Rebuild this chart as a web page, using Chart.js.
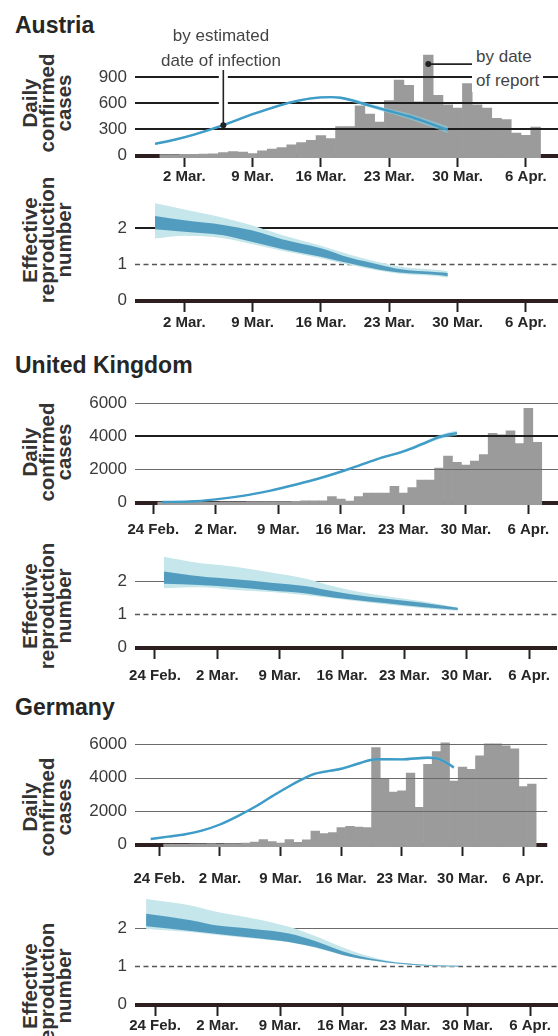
<!DOCTYPE html>
<html>
<head>
<meta charset="utf-8">
<script src="https://cdn.jsdelivr.net/npm/chart.js@4"></script>
<style>
  html, body { margin: 0; padding: 0; background: #fff; overflow: hidden; }
  body { width: 558px; height: 1036px; position: relative; font-family: "Liberation Sans", Arial, sans-serif; }
  canvas { position: absolute; left: 0; }
  .country { position: absolute; left: 15px; font-weight: bold; font-size: 23px; line-height: 23px; color: #262626; }
  .ytitle { position: absolute; left: 46px; transform: translate(-50%, -50%) rotate(-90deg); font-weight: bold; font-size: 20.5px; line-height: 17px; text-align: center; white-space: nowrap; color: #333; }
  .note { position: absolute; font-size: 17px; color: #444; z-index: 2; }
</style>
</head>
<body>
<div class="country" style="top:14px">Austria</div>
<div class="country" style="top:354px">United Kingdom</div>
<div class="country" style="top:696px">Germany</div>

<div class="ytitle" style="top:103px">Daily<br>confirmed<br>cases</div>
<div class="ytitle" style="top:240px">Effective<br>reproduction<br>number</div>
<div class="ytitle" style="top:452px">Daily<br>confirmed<br>cases</div>
<div class="ytitle" style="top:606px">Effective<br>reproduction<br>number</div>
<div class="ytitle" style="top:807px">Daily<br>confirmed<br>cases</div>
<div class="ytitle" style="top:986px">Effective<br>reproduction<br>number</div>

<div class="note" style="left:221px; top:24px; transform:translateX(-50%); text-align:center; line-height:24.5px;">by estimated<br>date of infection</div>
<div class="note" style="left:472px; top:45px; padding:0 4px; background:#fff; line-height:23.5px;">by date<br>of report</div>

<canvas id="a1"></canvas>
<canvas id="a2"></canvas>
<canvas id="u1"></canvas>
<canvas id="u2"></canvas>
<canvas id="g1"></canvas>
<canvas id="g2"></canvas>

<script>
// day numbers count from 24 Feb 2020 (day 0); 2020 is a leap year, so 2 Mar is day 7
const weekDays = [0, 7, 14, 21, 28, 35, 42];
const weekLabels = ["24 Feb.", "2 Mar.", "9 Mar.", "16 Mar.", "23 Mar.", "30 Mar.", "6 Apr."];

// ---- Austria ----
const atReportStart = 5; // 29 Feb
const atReported = [8, 8, 10, 10, 12, 14, 30, 42, 36, 18, 50, 70, 88, 118, 145, 170, 225, 190, 330, 330,
  570, 475, 383, 630, 867, 805, 615, 1155, 692, 580, 543, 827, 580, 543, 426, 412, 255, 230, 324];
const atInfDays = [4, 6, 8, 11, 14, 16, 18, 20, 22, 23, 24, 26, 28, 30, 32, 34];
const atInfected = [131, 178, 237, 346, 474, 547, 612, 656, 670, 663, 638, 572, 510, 449, 372, 292];
const atInfLow = [120, 166, 225, 333, 460, 533, 598, 642, 656, 648, 620, 550, 484, 418, 336, 254];
const atInfHigh = [142, 190, 249, 359, 488, 561, 626, 670, 684, 678, 656, 594, 536, 480, 408, 330];
const atRDays = [4, 7, 11, 14, 17, 21, 24, 27, 29, 33, 34];
const atROuterHigh = [2.70, 2.53, 2.30, 2.08, 1.82, 1.52, 1.27, 1.06, 0.94, 0.84, 0.81];
const atRInnerHigh = [2.35, 2.23, 2.10, 1.94, 1.70, 1.45, 1.18, 0.99, 0.87, 0.78, 0.76];
const atRInnerLow = [1.98, 1.91, 1.81, 1.62, 1.43, 1.21, 1.02, 0.85, 0.77, 0.70, 0.67];
const atROuterLow = [1.72, 1.80, 1.73, 1.56, 1.38, 1.17, 0.98, 0.82, 0.74, 0.67, 0.63];

// ---- United Kingdom ----
const ukReportStart = 1;
const ukReported = [3, 3, 5, 5, 8, 10, 12, 15, 18, 25, 30, 30, 35, 40, 40, 45, 80, 80, 80, 344,
  190, 70, 344, 554, 554, 554, 955, 554, 879, 1337, 1337, 2063, 2789, 2407, 2254, 2483, 2884, 4164, 4087, 4317,
  3553, 5692, 3629];
const ukInfDays = [1, 4, 7, 10, 13, 16, 19, 22, 25, 28, 30, 32, 33, 34];
const ukInfected = [10, 38, 172, 382, 688, 1070, 1509, 2025, 2598, 3075, 3495, 3935, 4087, 4183];
const ukInfLow = [0, 18, 145, 350, 650, 1025, 1460, 1965, 2530, 2990, 3390, 3810, 3955, 4040];
const ukInfHigh = [25, 60, 200, 415, 725, 1115, 1560, 2085, 2665, 3160, 3600, 4060, 4220, 4320];
const ukRDays = [1, 5, 9, 13, 17, 20, 24, 28, 32, 34];
const ukROuterHigh = [2.73, 2.54, 2.43, 2.26, 2.07, 1.84, 1.62, 1.46, 1.30, 1.19];
const ukRInnerHigh = [2.29, 2.14, 2.05, 1.95, 1.84, 1.69, 1.52, 1.40, 1.27, 1.19];
const ukRInnerLow = [1.92, 1.88, 1.81, 1.71, 1.62, 1.50, 1.38, 1.27, 1.17, 1.12];
const ukROuterLow = [1.78, 1.81, 1.73, 1.67, 1.57, 1.48, 1.35, 1.24, 1.14, 1.10];

// ---- Germany ----
const deReportStart = 1;
const deReported = [10, 5, 10, 15, 20, 30, 25, 35, 40, 60, 130, 280, 160, 60, 270, 110, 260, 790, 630, 700,
  1000, 1070, 1030, 990, 5790, 3920, 3130, 3200, 4270, 2210, 4790, 5550, 6080, 3790, 4620, 4490, 5300, 6020, 6020, 5900,
  5720, 3450, 3600];
const deInfDays = [-1, 1, 3, 5, 7, 9, 11, 13, 15, 17, 18, 21, 23, 25, 28, 31, 32, 33, 34];
const deInfected = [310, 450, 598, 830, 1180, 1670, 2230, 2870, 3480, 4020, 4230, 4526, 4840, 5100, 5090, 5190, 5150, 4935, 4600];
const deInfLow = [270, 410, 550, 780, 1120, 1610, 2170, 2800, 3410, 3950, 4160, 4456, 4770, 5030, 5020, 5110, 5070, 4845, 4500];
const deInfHigh = [350, 490, 646, 880, 1240, 1730, 2290, 2940, 3550, 4090, 4300, 4596, 4910, 5170, 5160, 5270, 5230, 5025, 4700];
const deRDays = [-1, 4, 7, 11, 15, 18, 22, 26, 30, 34];
const deROuterHigh = [2.77, 2.60, 2.43, 2.26, 2.04, 1.79, 1.41, 1.15, 1.05, 1.02];
const deRInnerHigh = [2.38, 2.21, 2.07, 1.98, 1.86, 1.66, 1.32, 1.13, 1.04, 1.01];
const deRInnerLow = [2.05, 1.93, 1.85, 1.75, 1.64, 1.50, 1.24, 1.10, 1.02, 0.99];
const deROuterLow = [1.98, 1.90, 1.82, 1.73, 1.63, 1.48, 1.24, 1.09, 1.01, 0.98];

Chart.defaults.font.family = '"Liberation Sans", Arial, sans-serif';
Chart.defaults.animation = false;
Chart.defaults.plugins.legend.display = false;
Chart.defaults.plugins.tooltip.enabled = false;

const narrow = '"Liberation Sans Narrow", "Arial Narrow", "Liberation Sans", Arial, sans-serif';

const pts = (days, vals) => days.map((d, i) => ({ x: d, y: vals[i] }));
const fromStart = (start, vals) => vals.map((v, i) => ({ x: start + i, y: v }));

function casesSets(start, reported, days, mid, lo, hi) {
  const smooth = { type: "line", pointRadius: 0, cubicInterpolationMode: "monotone", borderWidth: 1 };
  return [
    { type: "bar", data: fromStart(start, reported), backgroundColor: "#9b9b9b", borderWidth: 0,
      barPercentage: 1, categoryPercentage: 1, order: 3 },
    { ...smooth, data: pts(days, lo), borderColor: "transparent", fill: false, order: 2 },
    { ...smooth, data: pts(days, hi), borderColor: "transparent", backgroundColor: "rgba(140,206,226,0.6)", fill: "-1", order: 2 },
    { ...smooth, data: pts(days, mid), borderColor: "#3e9cc7", borderWidth: 2.4, fill: false, order: 1 },
  ];
}

function rSets(days, outerLo, outerHi, innerLo, innerHi) {
  const band = (vals, fill, color, order) => ({
    type: "line", data: pts(days, vals), borderColor: "transparent", borderWidth: 1,
    backgroundColor: color, pointRadius: 0, cubicInterpolationMode: "monotone", fill, order,
  });
  return [
    band(outerLo, false, "transparent", 2),
    band(outerHi, "-1", "#c5e6ea", 2),
    band(innerLo, false, "transparent", 1),
    band(innerHi, "-1", "#529dbf", 1),
  ];
}

function drawGrid(chart, o) {
  const { ctx, chartArea: a, scales: { y } } = chart;
  ctx.save();
  y.ticks.forEach(t => {
    if (t.value === 0) return;
    const heavy = o.heavy.includes(t.value);
    const dashed = o.dashed.includes(t.value);
    const py = Math.round(y.getPixelForValue(t.value)) + (heavy ? 0 : 0.5);
    ctx.beginPath();
    ctx.lineWidth = heavy ? 2 : dashed ? 1.6 : 1;
    ctx.strokeStyle = heavy ? "#1e1e1e" : dashed ? "#555" : "#6a6a6a";
    ctx.setLineDash(dashed ? [5, 3.5] : []);
    ctx.moveTo(a.left, py);
    ctx.lineTo(a.right, py);
    ctx.stroke();
  });
  ctx.restore();
}

const rulesPlugin = {
  id: "rules",
  beforeDatasetsDraw(chart, args, o) {
    const { ctx, chartArea: a, scales: { y } } = chart;
    const y0 = Math.round(y.getPixelForValue(0));
    ctx.save();
    ctx.fillStyle = "#2d1f1f";
    ctx.fillRect(a.left, y0 - 1, a.right - a.left, a.bottom - y0 + 1);
    ctx.restore();
    if (!o.overBars) drawGrid(chart, o);
  },
  afterDatasetDraw(chart, args, o) {
    if (o.overBars && args.meta.type === "bar") drawGrid(chart, o);
  },
};

// leader lines for the two Austria labels
const austriaNotes = {
  id: "austriaNotes",
  afterDatasetsDraw(chart) {
    const { ctx, scales: { x, y } } = chart;
    const top = parseFloat(chart.canvas.style.top);
    const p = chart.getDatasetMeta(3).data[atInfDays.indexOf(11)];
    ctx.save();
    ctx.strokeStyle = "#fff";
    ctx.lineWidth = 9;
    ctx.beginPath();
    ctx.moveTo(p.x, 70 - top);
    ctx.lineTo(p.x, p.y - 18);
    ctx.stroke();
    ctx.strokeStyle = "#222";
    ctx.lineWidth = 1.6;
    ctx.beginPath();
    ctx.moveTo(p.x, 70 - top);
    ctx.lineTo(p.x, p.y);
    ctx.stroke();
    ctx.fillStyle = "#222";
    ctx.beginPath();
    ctx.arc(p.x, p.y, 3, 0, Math.PI * 2);
    ctx.fill();

    const peak = Math.max(...atReported);
    const peakDay = atReportStart + atReported.indexOf(peak);
    const qx = x.getPixelForValue(peakDay);
    const qy = y.getPixelForValue(peak) + 9;
    ctx.beginPath();
    ctx.moveTo(qx, qy);
    ctx.lineTo(472, qy);
    ctx.stroke();
    ctx.beginPath();
    ctx.arc(qx, qy, 3, 0, Math.PI * 2);
    ctx.fill();
    ctx.restore();
  },
};

function panel(id, o) {
  const span = o.yZero - o.yTop;
  const yMin = -3 * o.yMax / span;
  const canvas = document.getElementById(id);
  const top = o.yTop - 12;
  canvas.style.top = top + "px";
  canvas.width = 558;
  canvas.height = o.yZero + 3 + 44 - top;
  o.datasets.forEach(d => { if (d.type === "bar") d.base = yMin; });
  return new Chart(canvas, {
    type: "bar",
    data: { datasets: o.datasets },
    options: {
      responsive: false,
      devicePixelRatio: 1,
      layout: { padding: { top: 12, left: 0, right: 0, bottom: 0 } },
      scales: {
        x: {
          type: "linear", min: o.xMin, max: o.xMax, offset: false,
          afterBuildTicks: s => { s.ticks = o.tickDays.map(v => ({ value: v })); },
          afterFit: s => { s.height = 44; },
          border: { display: false },
          grid: { offset: false, drawOnChartArea: false, drawTicks: true, tickLength: 9, tickWidth: 2, tickColor: "#222" },
          ticks: {
            autoSkip: false, maxRotation: 0, padding: o.labelPad, color: "#262626",
            font: { family: narrow, size: 15, weight: "bold" },
            callback: (v, i) => o.tickLabels[i],
          },
        },
        y: {
          type: "linear", min: yMin, max: o.yMax,
          afterBuildTicks: s => { s.ticks = o.yTicks.map(v => ({ value: v })); },
          afterFit: s => { s.width = 135; },
          border: { display: false },
          grid: { display: false, drawTicks: false },
          ticks: { padding: 8, color: "#3a3a3a", font: { size: 17 }, callback: v => String(v) },
        },
      },
      plugins: { rules: { heavy: o.heavy, dashed: o.dashed, overBars: o.overBars } },
    },
    plugins: [rulesPlugin].concat(o.extra || []),
  });
}

const atX = { xMin: 1.95, xMax: 45.29, tickDays: weekDays.slice(1), tickLabels: weekLabels.slice(1) };

panel("a1", {
  ...atX, yTop: 45, yZero: 155, yMax: 1200, yTicks: [0, 300, 600, 900], labelPad: 1,
  heavy: [300, 600, 900], dashed: [], overBars: true, extra: [austriaNotes],
  datasets: casesSets(atReportStart, atReported, atInfDays, atInfected, atInfLow, atInfHigh),
});
panel("a2", {
  ...atX, yTop: 190, yZero: 300, yMax: 2.9, yTicks: [0, 1, 2], labelPad: 2,
  heavy: [2], dashed: [1], overBars: false,
  datasets: rSets(atRDays, atROuterLow, atROuterHigh, atRInnerLow, atRInnerHigh),
});
panel("u1", {
  xMin: -2.05, xMax: 45.32, tickDays: weekDays, tickLabels: weekLabels,
  yTop: 392, yZero: 502, yMax: 6300, yTicks: [0, 2000, 4000, 6000], labelPad: 7,
  heavy: [4000], dashed: [], overBars: true,
  datasets: casesSets(ukReportStart, ukReported, ukInfDays, ukInfected, ukInfLow, ukInfHigh),
});
panel("u2", {
  xMin: -2.24, xMax: 45.13, tickDays: weekDays, tickLabels: weekLabels,
  yTop: 545, yZero: 647, yMax: 2.9, yTicks: [0, 1, 2], labelPad: 8,
  heavy: [], dashed: [1], overBars: false,
  datasets: rSets(ukRDays, ukROuterLow, ukROuterHigh, ukRInnerLow, ukRInnerHigh),
});
panel("g1", {
  xMin: -2.81, xMax: 44.78, tickDays: weekDays, tickLabels: weekLabels,
  yTop: 733, yZero: 844, yMax: 6300, yTicks: [0, 2000, 4000, 6000], labelPad: 14,
  heavy: [], dashed: [], overBars: true,
  datasets: casesSets(deReportStart, deReported, deInfDays, deInfected, deInfLow, deInfHigh),
});
panel("g2", {
  xMin: -2.24, xMax: 45.13, tickDays: weekDays, tickLabels: weekLabels,
  yTop: 886, yZero: 1004, yMax: 2.95, yTicks: [0, 1, 2], labelPad: 1,
  heavy: [], dashed: [1], overBars: false,
  datasets: rSets(deRDays, deROuterLow, deROuterHigh, deRInnerLow, deRInnerHigh),
});
</script>
</body>
</html>
